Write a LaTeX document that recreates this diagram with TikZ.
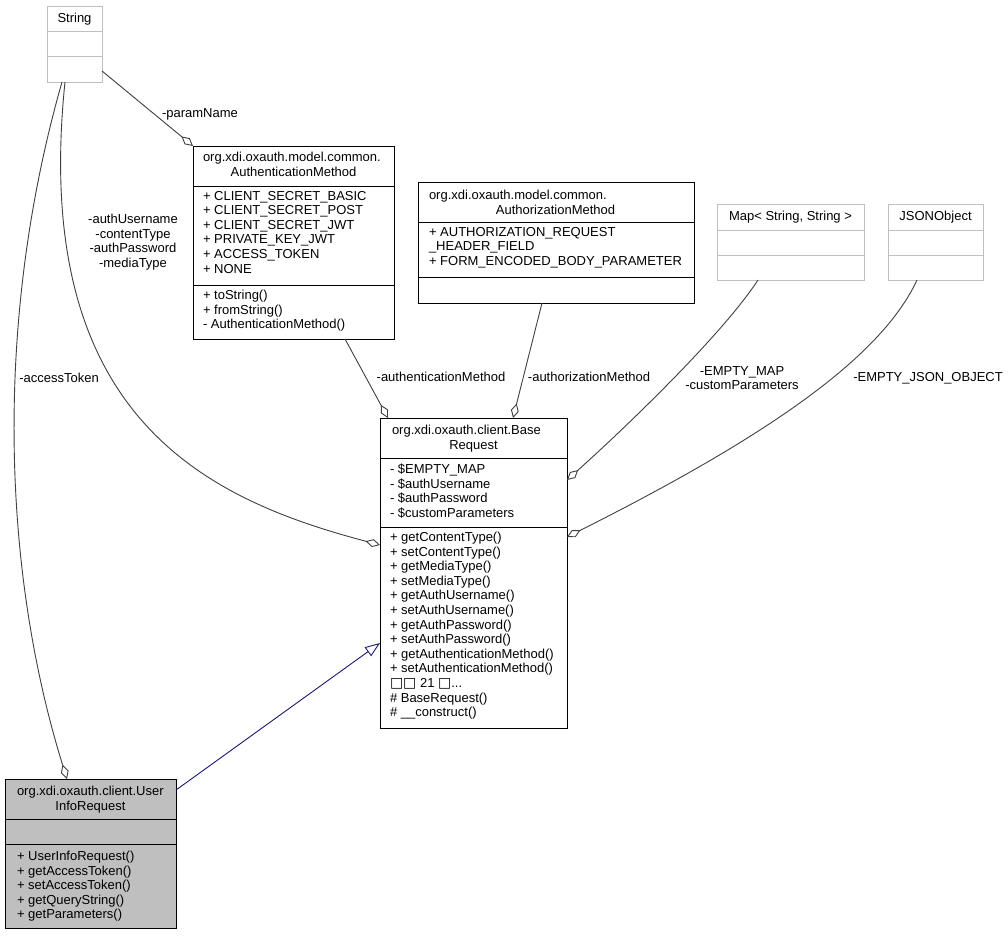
\documentclass[tikz,border=0pt]{standalone}
\usepackage{fontspec}
\setmainfont{Liberation Sans}
\newfontfamily\djv{DejaVu Sans}
\usetikzlibrary{arrows.meta,calc}
\definecolor{edgec}{HTML}{404040}
\definecolor{navyc}{HTML}{191970}
\definecolor{lgrey}{HTML}{BFBFBF}
\definecolor{fillg}{HTML}{BFBFBF}
\newcommand\fs{\fontsize{13}{14.6}\selectfont}
\newcommand\sr{\rule{0pt}{10.5pt}}
\newcommand\bx{{\djv\fontsize{14}{14.6}\selectfont □}}
\begin{document}
\begin{tikzpicture}[x=1pt,y=-1pt,
  cls/.style={draw=black, line width=1pt, rectangle, anchor=north west, inner sep=0pt, outer sep=0pt},
  ext/.style={cls, draw=lgrey},
  sepl/.style={line width=1pt},
  txt/.style={font=\fs, inner sep=0pt, outer sep=0pt, align=left, anchor=north west, execute at begin node=\sr},
  ttl/.style={font=\fs, inner sep=0pt, outer sep=0pt, align=center, anchor=north, execute at begin node=\sr},
  lbl/.style={font=\fs, inner sep=0pt, align=center, anchor=north, execute at begin node=\sr},
  agg/.style={draw=edgec, line width=0.9pt, -{Diamond[open, length=15pt, width=8pt]}},
  inh/.style={draw=navyc, line width=0.9pt, -{Triangle[open, length=15pt, width=11pt]}},
]
\useasboundingbox (0,0) rectangle (1008,935);
\fill[white] (0,0) rectangle (1008,935);

% ---------- class boxes ----------
\node[ext, minimum width=55pt, minimum height=76pt] (str) at (47,6) {};
\draw[lgrey, sepl] (str.west |- 0,31) -- (str.east |- 0,31);
\draw[lgrey, sepl] (str.west |- 0,56) -- (str.east |- 0,56);
\node[ttl] (strT) at (74.5,12.1) {String};

\node[cls, minimum width=201pt, minimum height=193pt] (authm) at (193,146) {};
\draw[sepl] (authm.west |- 0,186) -- (authm.east |- 0,186);
\draw[sepl] (authm.west |- 0,285) -- (authm.east |- 0,285);
\node[txt] (authmT1) at (203,151.1) {org.xdi.oxauth.model.common.};
\node[ttl] (authmT2) at (293.5,165.7) {AuthenticationMethod};
\node[txt] (authmA) at (203,191.1) {+ CLIENT\_SECRET\_BASIC\\+ CLIENT\_SECRET\_POST\\+ CLIENT\_SECRET\_JWT\\+ PRIVATE\_KEY\_JWT\\+ ACCESS\_TOKEN\\+ NONE};
\node[txt] (authmM) at (203,290.1) {+ toString()\\+ fromString()\\- AuthenticationMethod()};

\node[cls, minimum width=276pt, minimum height=121pt] (authz) at (418,182) {};
\draw[sepl] (authz.west |- 0,222) -- (authz.east |- 0,222);
\draw[sepl] (authz.west |- 0,277) -- (authz.east |- 0,277);
\node[txt] (authzT1) at (429,189.1) {org.xdi.oxauth.model.common.};
\node[ttl] (authzT2) at (555.5,203.7) {AuthorizationMethod};
\node[txt] (authzA) at (429,227.1) {+ AUTHORIZATION\_REQUEST\\\_HEADER\_FIELD\\+ FORM\_ENCODED\_BODY\_PARAMETER};

\node[ext, minimum width=147pt, minimum height=76pt] (map) at (717,204) {};
\draw[lgrey, sepl] (map.west |- 0,230) -- (map.east |- 0,230);
\draw[lgrey, sepl] (map.west |- 0,255) -- (map.east |- 0,255);
\node[ttl] (mapT) at (790.5,210.1) {Map< String, String >};

\node[ext, minimum width=95pt, minimum height=76pt] (json) at (888,204) {};
\draw[lgrey, sepl] (json.west |- 0,230) -- (json.east |- 0,230);
\draw[lgrey, sepl] (json.west |- 0,255) -- (json.east |- 0,255);
\node[ttl] (jsonT) at (935.5,210.1) {JSONObject};

\node[cls, minimum width=187pt, minimum height=310pt] (base) at (380,418) {};
\draw[sepl] (base.west |- 0,458) -- (base.east |- 0,458);
\draw[sepl] (base.west |- 0,527) -- (base.east |- 0,527);
\node[txt] (baseT1) at (392,424.1) {org.xdi.oxauth.client.Base};
\node[ttl] (baseT2) at (473.5,438.7) {Request};
\node[txt] (baseA) at (390,464.1) {- \$EMPTY\_MAP\\- \$authUsername\\- \$authPassword\\- \$customParameters};
\node[txt] (baseM) at (390,532.1) {+ getContentType()\\+ setContentType()\\+ getMediaType()\\+ setMediaType()\\+ getAuthUsername()\\+ setAuthUsername()\\+ getAuthPassword()\\+ setAuthPassword()\\+ getAuthenticationMethod()\\+ setAuthenticationMethod()\\\bx\bx{} 21 \bx...\\\# BaseRequest()\\\# \_\_construct()};

\node[cls, fill=fillg, minimum width=171pt, minimum height=149pt] (uir) at (5,779) {};
\draw[sepl] (uir.west |- 0,819) -- (uir.east |- 0,819);
\draw[sepl] (uir.west |- 0,844) -- (uir.east |- 0,844);
\node[txt] (uirT1) at (17,785.1) {org.xdi.oxauth.client.User};
\node[ttl] (uirT2) at (90.5,799.7) {InfoRequest};
\node[txt] (uirM) at (17,851.1) {+ UserInfoRequest()\\+ getAccessToken()\\+ setAccessToken()\\+ getQueryString()\\+ getParameters()};

% ---------- connectors ----------
\draw[agg] ($(str.north east)+(0,65)$) -- (authm.north west);
\draw[agg] ($(str.south west)+(15,0)$) .. controls (-6,320) and (2,570) .. ($(uir.north west)+(62,0)$);
\draw[agg] ($(str.south west)+(18,0)$) .. controls (30,420) and (210,500) .. ($(base.north west)+(0,127)$);
\draw[agg] ($(authm.south west)+(152,0)$) -- ($(base.north west)+(8,0)$);
\draw[agg] ($(authz.south west)+(124,0)$) -- ($(base.north west)+(133,0)$);
\draw[agg] ($(map.south west)+(41,0)$) .. controls (722,335) and (625,428) .. ($(base.north east)+(0,62)$);
\draw[agg] ($(json.south west)+(29,0)$) .. controls (880,360) and (760,440) .. ($(base.north east)+(0,119)$);
\draw[inh] ($(uir.north east)+(0,11)$) -- ($(base.north west)+(0,225)$);

% ---------- labels ----------
\node[lbl] (l1) at (200,107.1) {-paramName};
\node[lbl] (l2) at (133,214.1) {-authUsername\\-contentType\\-authPassword\\-mediaType};
\node[lbl] (l3) at (59,372.1) {-accessToken};
\node[lbl] (l4) at (441,371.1) {-authenticationMethod};
\node[lbl] (l5) at (589,371.1) {-authorizationMethod};
\node[lbl] (l6) at (742,366.1) {-EMPTY\_MAP\\-customParameters};
\node[lbl] (l7) at (928,371.1) {-EMPTY\_JSON\_OBJECT};
\end{tikzpicture}
\end{document}
